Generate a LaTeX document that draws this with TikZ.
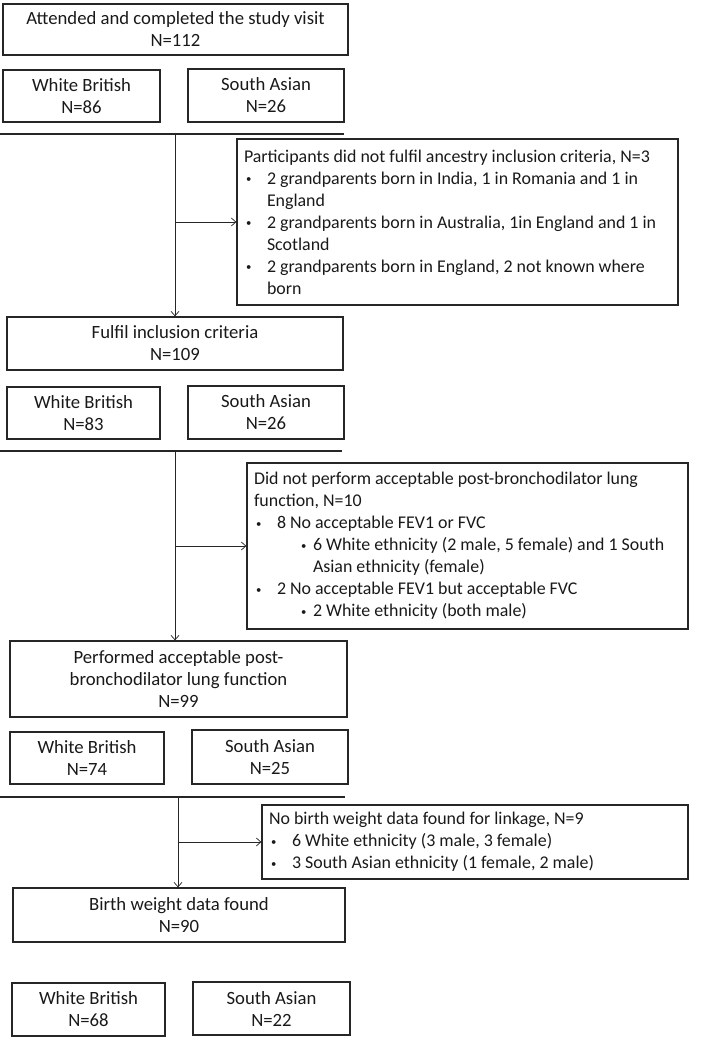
\documentclass[tikz,border=0pt]{standalone}
\usepackage{fontspec}
\setmainfont{Carlito}
\usetikzlibrary{arrows.meta}

% bullet helpers for the exclusion boxes
\newcommand{\smallbul}{\raisebox{1.5pt}{\scalebox{0.6}{\textbullet}}}
\newcommand{\bul}{\hspace*{2pt}\makebox[21pt][l]{\smallbul}}
\newcommand{\contind}{\hspace*{23pt}}
\newcommand{\subbul}{\hspace*{47pt}\makebox[12pt][l]{\smallbul}}
\newcommand{\subcontind}{\hspace*{59pt}}

\begin{document}
\begin{tikzpicture}[x=1pt,y=-1pt,
    box/.style={draw=black!85,line width=1.3pt,rectangle,align=center,inner sep=0pt,
      font=\fontsize{18.7}{22}\selectfont,text=black!90},
    exclbox/.style={box,align=flush left,inner sep=7pt,font=\fontsize{17.9}{22}\selectfont},
    sepline/.style={draw=black!85,line width=1.8pt},
    flow/.style={draw=black!85,line width=0.7pt,-{Straight Barb[length=4.5pt,width=8pt]}}]
    \useasboundingbox (0,0) rectangle (720,1040);

    % Main stages
    \node[box,minimum width=345pt,minimum height=51pt] (visit) at (175.5,29.5) {Attended and completed the study visit\\N=112};
    \node[box,minimum width=336pt,minimum height=53pt] (incl) at (175,343.5) {Fulfil inclusion criteria\\N=109};
    \node[box,minimum width=337pt,minimum height=76pt] (perf) at (178.5,679) {Performed acceptable post-\\bronchodilator lung function\\N=99};
    \node[box,minimum width=332pt,minimum height=54pt] (birth) at (179,915) {Birth weight data found\\N=90};

    % Ethnicity split
    \node[box,minimum width=157pt,minimum height=52pt] (wb1) at (81.5,96) {White British\\N=86};
    \node[box,minimum width=156pt,minimum height=53pt] (sa1) at (266,95.5) {South Asian\\N=26};
    \node[box,minimum width=153pt,minimum height=52pt] (wb2) at (83.5,413) {White British\\N=83};
    \node[box,minimum width=156pt,minimum height=53pt] (sa2) at (266,412.5) {South Asian\\N=26};
    \node[box,minimum width=154pt,minimum height=52pt] (wb3) at (87,758) {White British\\N=74};
    \node[box,minimum width=156pt,minimum height=54pt] (sa3) at (270,757) {South Asian\\N=25};
    \node[box,minimum width=153pt,minimum height=53pt] (wb4) at (88.5,1009.5) {White British\\N=68};
    \node[box,minimum width=157pt,minimum height=53pt] (sa4) at (271.5,1008.5) {South Asian\\N=22};

    % Exclusions
    \node[exclbox,text width=427pt,minimum height=166pt] (excl1) at (457.5,222) {Participants did not fulfil ancestry inclusion criteria, N=3\\
      \bul 2 grandparents born in India, 1 in Romania and 1 in\\
      \contind England\\
      \bul 2 grandparents born in Australia, 1in England and 1 in\\
      \contind Scotland\\
      \bul 2 grandparents born in England, 2 not known where\\
      \contind born};
    \node[exclbox,text width=427pt,minimum height=166pt] (excl2) at (467.5,546) {Did not perform acceptable post-bronchodilator lung\\
      function, N=10\\
      \bul 8 No acceptable FEV1 or FVC\\
      \subbul 6 White ethnicity (2 male, 5 female) and 1 South\\
      \subcontind Asian ethnicity (female)\\
      \bul 2 No acceptable FEV1 but acceptable FVC\\
      \subbul 2 White ethnicity (both male)};
    \node[exclbox,text width=412pt,minimum height=74pt] (excl3) at (475,842) {No birth weight data found for linkage, N=9\\
      \bul 6 White ethnicity (3 male, 3 female)\\
      \bul 3 South Asian ethnicity (1 female, 2 male)};

    % Separator lines
    \coordinate (s1l) at (0,134);
    \coordinate (s1r) at (344,134);
    \coordinate (s1c) at (175,134);
    \coordinate (s2l) at (0,451);
    \coordinate (s2r) at (342,451);
    \coordinate (s2c) at (175,451);
    \coordinate (s3l) at (0,797);
    \coordinate (s3r) at (345,797);
    \coordinate (s3c) at (178,797);
    \draw[sepline] (s1l) -- (s1r);
    \draw[sepline] (s2l) -- (s2r);
    \draw[sepline] (s3l) -- (s3r);

    % Flow arrows
    \draw[flow] (s1c) -- (s1c |- incl.north);
    \draw[flow] (s1c |- excl1.west) -- (excl1.west);
    \draw[flow] (s2c) -- (s2c |- perf.north);
    \draw[flow] (s2c |- excl2.west) -- (excl2.west);
    \draw[flow] (s3c) -- (s3c |- birth.north);
    \draw[flow] (s3c |- excl3.west) -- (excl3.west);
\end{tikzpicture}
\end{document}
